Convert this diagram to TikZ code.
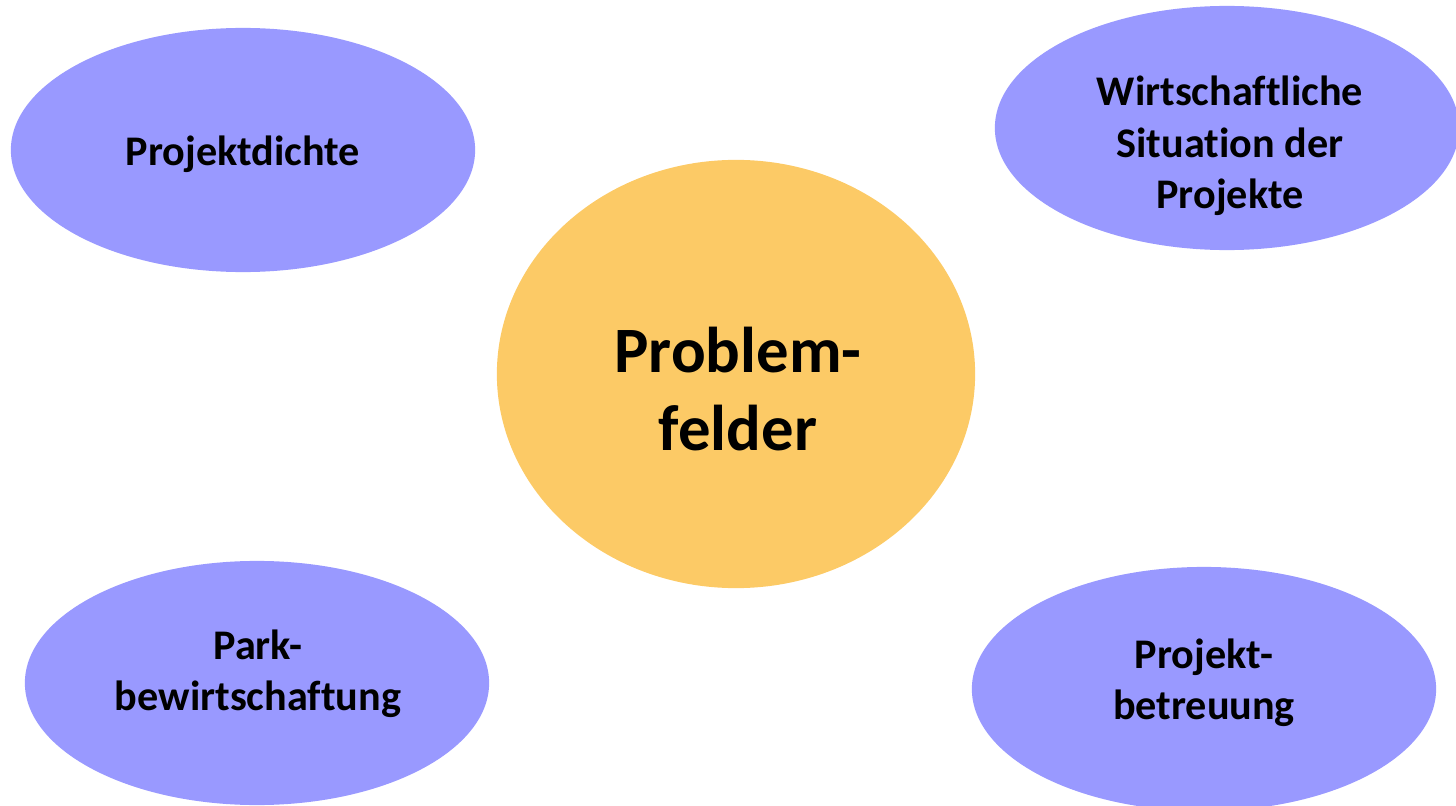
\documentclass[tikz,border=0pt]{standalone}
\usepackage{fontspec}
\setmainfont[Ligatures=NoCommon]{Carlito}
\usepackage{tikz}
\usetikzlibrary{shapes.geometric}
\definecolor{blob}{HTML}{9999FF}
\definecolor{core}{HTML}{FCCA66}
\tikzset{side/.style={ellipse,fill=blob,inner sep=0pt,minimum width=4.64cm,minimum height=2.44cm},
  mid/.style={ellipse,fill=core,inner sep=0pt,minimum width=4.78cm,minimum height=4.28cm},
  lbl/.style={align=center,font=\bfseries\fontsize{12}{14.6}\selectfont,inner sep=0pt},
  biglbl/.style={align=center,font=\bfseries\fontsize{18.4}{22}\selectfont,inner sep=0pt}}

\begin{document}
\begin{tikzpicture}[x=0.01cm,y=-0.01cm]
  \useasboundingbox (0,0) rectangle (1456,806);
  \clip (0,0) rectangle (1456,806);
  \node[side] (pd) at (243,150) {};
  \node[side] (ws) at (1227,128) {};
  \node[mid] (pf) at (736,374) {};
  \node[side] (pk) at (257,683) {};
  \node[side] (pb) at (1204,689) {};
  \node[lbl] (tpd) at (243,154) {Projektdichte};
  \node[lbl] (tws) at (1230,146) {Wirtschaftliche\\Situation der\\Projekte};
  \node[biglbl] (tpf) at (738,389) {Problem-\\felder};
  \node[lbl] (tpk) at (258,674) {Park-\\bewirtschaftung};
  \node[lbl] (tpb) at (1204,683) {Projekt-\\betreuung};
\end{tikzpicture}
\end{document}
